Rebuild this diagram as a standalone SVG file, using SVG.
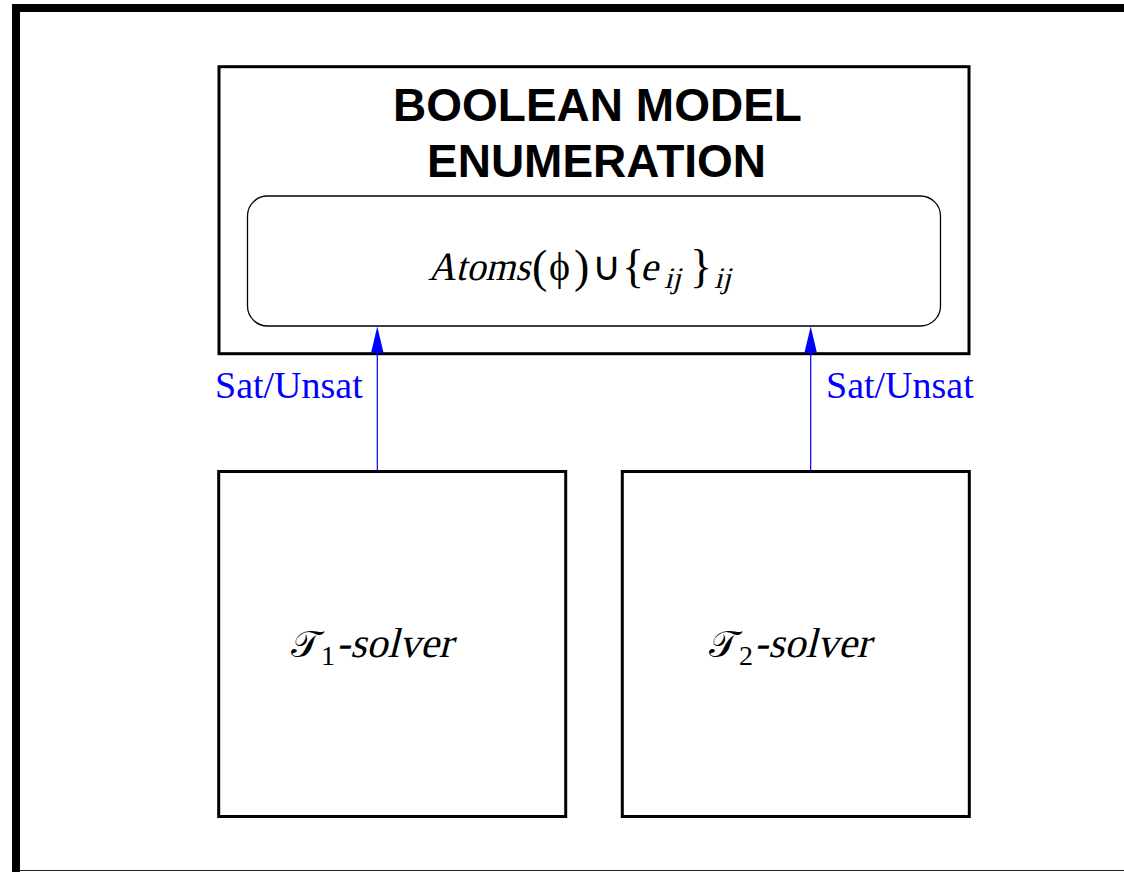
<svg xmlns="http://www.w3.org/2000/svg" width="1124" height="872" viewBox="0 0 1124 872">
<style>
.box{fill:none;stroke:#000;stroke-width:3}
.title{font-family:"Liberation Sans",Arial,sans-serif;font-weight:bold;font-size:46px;fill:#000;text-anchor:middle}
.math{font-family:"Liberation Serif","Times New Roman",serif;font-size:40px;fill:#000}
.math.sub{font-size:30px}
.math.big{font-size:46px}
.math.cal{font-size:38px}
.math.idx{font-size:28px}
.math.sol{font-size:42px}
.lbl{font-family:"Liberation Serif","Times New Roman",serif;font-size:38px;fill:#0000ff}
.conn{stroke:#0000ff;stroke-width:1.2;fill:none}
.head{fill:#0000ff}
</style>
<rect x="0" y="0" width="1124" height="872" fill="#fff"/>
<g id="frame">
<rect x="12" y="4" width="1112" height="8" fill="#000"/>
<rect x="12" y="4" width="8" height="868" fill="#000"/>
<line x1="20" y1="870.5" x2="1124" y2="870.5" stroke="#222" stroke-width="1.2"/>
</g>
<g id="bme">
<rect class="box" x="219" y="66.7" width="750" height="287"/>
<text class="title" x="597.5" y="121">BOOLEAN MODEL</text>
<text class="title" x="596.5" y="177">ENUMERATION</text>
</g>
<g id="atoms">
<rect x="247.5" y="196" width="693" height="130" rx="20" ry="20" fill="none" stroke="#000" stroke-width="1.3"/>
<text class="math" transform="translate(428,280) skewX(-14)" textLength="102" lengthAdjust="spacingAndGlyphs">Atoms</text>
<text class="math big" x="532" y="282">(</text>
<text class="math" x="549" y="280">ϕ</text>
<text class="math big" x="574" y="282">)</text>
<text class="math" x="592" y="280">∪</text>
<text class="math big" x="622" y="282">{</text>
<text class="math" transform="translate(640,280) skewX(-14)">e</text>
<text class="math sub" transform="translate(664,288) skewX(-14)">ij</text>
<text class="math big" x="690" y="282">}</text>
<text class="math sub" transform="translate(714,288) skewX(-14)">ij</text>
</g>
<g id="t1">
<rect class="box" x="218.7" y="471.5" width="347" height="345"/>
<text class="math cal" x="291" y="657">𝒯</text>
<text class="math idx" x="321" y="665">1</text>
<text class="math sol" transform="translate(336,657) skewX(-14)">-solver</text>
</g>
<g id="t2">
<rect class="box" x="622.3" y="471.5" width="347" height="345"/>
<text class="math cal" x="709" y="657">𝒯</text>
<text class="math idx" x="739" y="665">2</text>
<text class="math sol" transform="translate(754,657) skewX(-14)">-solver</text>
</g>
<g id="connectors">
<line class="conn" x1="377.3" y1="471" x2="377.3" y2="350"/>
<polygon class="head" points="377.3,326.5 371,353 383.6,353"/>
<text class="lbl" x="215" y="397.7">Sat/Unsat</text>
<line class="conn" x1="810.7" y1="471" x2="810.7" y2="350"/>
<polygon class="head" points="810.7,326.5 804.4,353 817,353"/>
<text class="lbl" x="826" y="397.7">Sat/Unsat</text>
</g>
</svg>
